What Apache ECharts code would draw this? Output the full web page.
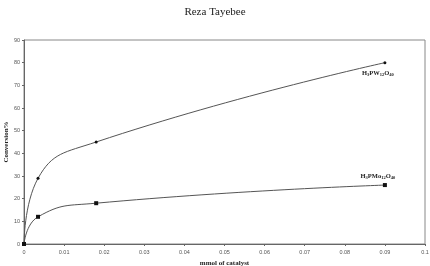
<!DOCTYPE html>
<html><head><meta charset="utf-8">
<script src="https://cdn.jsdelivr.net/npm/echarts@6/dist/echarts.min.js"></script>
<style>html,body{margin:0;padding:0;background:#fff}#c{width:430px;height:266px}</style>
</head><body><div id="c"></div>
<script>
const xPW = [0, 0.0035, 0.018, 0.09];
const yPW = [0, 29, 45, 80];
const xMo = [0, 0.0035, 0.018, 0.09];
const yMo = [0, 12, 18, 26];
const xTicks = [0, 0.01, 0.02, 0.03, 0.04, 0.05, 0.06, 0.07, 0.08, 0.09, 0.1];
const yTicks = [0, 10, 20, 30, 40, 50, 60, 70, 80, 90];
const labelPW = 'H{s|3}PW{s|12}O{s|40}';
const labelMo = 'H{s|3}PMo{s|12}O{s|40}';

const chart = echarts.init(document.getElementById('c'));
const serif = '"Liberation Serif","DejaVu Serif",serif';
const sans = '"Liberation Sans",Arial,sans-serif';
const rich = { s: { fontSize: 4.5, fontFamily: serif, fontWeight: 'bold', color: '#222', padding: [3,0,0,0] } };
function mk(xs, ys, lab, off) {
  return xs.map((x, i) => {
    const item = { value: [x, ys[i]] };
    if (i === xs.length - 1) item.label = { show: true, position: 'inside', offset: off, color: '#222',
      formatter: lab, fontFamily: serif, fontSize: 6.5, fontWeight: 'bold', rich: rich };
    return item;
  });
}
chart.setOption({
  animation: false,
  title: { text: 'Reza Tayebee', left: 'center', top: 2,
    textStyle: { fontFamily: serif, fontSize: 11, fontWeight: 'normal', color: '#222' } },
  grid: { left: 24, right: 5, top: 40, bottom: 22, outerBoundsMode: 'none', containLabel: false,
    show: true, borderColor: '#888', borderWidth: 1 },
  xAxis: { type: 'value', min: 0, max: 0.1, interval: 0.01,
    name: 'mmol of catalyst', nameLocation: 'middle', nameGap: 15.5, nameMoveOverlap: false,
    nameTextStyle: { fontFamily: serif, fontSize: 7, fontWeight: 'bold', color: '#222' },
    axisLine: { lineStyle: { color: '#666' } },
    axisTick: { length: 2, lineStyle: { color: '#666' } },
    splitLine: { show: false },
    axisLabel: { fontFamily: sans, fontSize: 5.5, color: '#555', margin: 5,
      formatter: v => { const i = xTicks.findIndex(t => Math.abs(t - v) < 1e-9); return i >= 0 ? String(xTicks[i]) : ''; } } },
  yAxis: { type: 'value', min: 0, max: 90, interval: 10,
    name: 'Conversion%', nameLocation: 'middle', nameGap: 14, nameMoveOverlap: false,
    nameTextStyle: { fontFamily: serif, fontSize: 7, fontWeight: 'bold', color: '#222' },
    axisLine: { show: true, lineStyle: { color: '#666' } },
    axisTick: { show: true, length: 2, lineStyle: { color: '#666' } },
    splitLine: { show: false },
    axisLabel: { fontFamily: sans, fontSize: 5.5, color: '#555', margin: 4,
      formatter: v => { const i = yTicks.indexOf(v); return i >= 0 ? String(yTicks[i]) : ''; } } },
  series: [
    { type: 'line', smooth: 0.5, data: mk(xPW, yPW, labelPW, [-7, 11]),
      symbol: 'circle', symbolSize: 3, itemStyle: { color: '#111' },
      lineStyle: { color: '#555', width: 1 } },
    { type: 'line', smooth: 0.5, data: mk(xMo, yMo, labelMo, [-7, -9]),
      symbol: 'rect', symbolSize: 4, itemStyle: { color: '#111' },
      lineStyle: { color: '#555', width: 1 } }
  ]
});
</script></body></html>
